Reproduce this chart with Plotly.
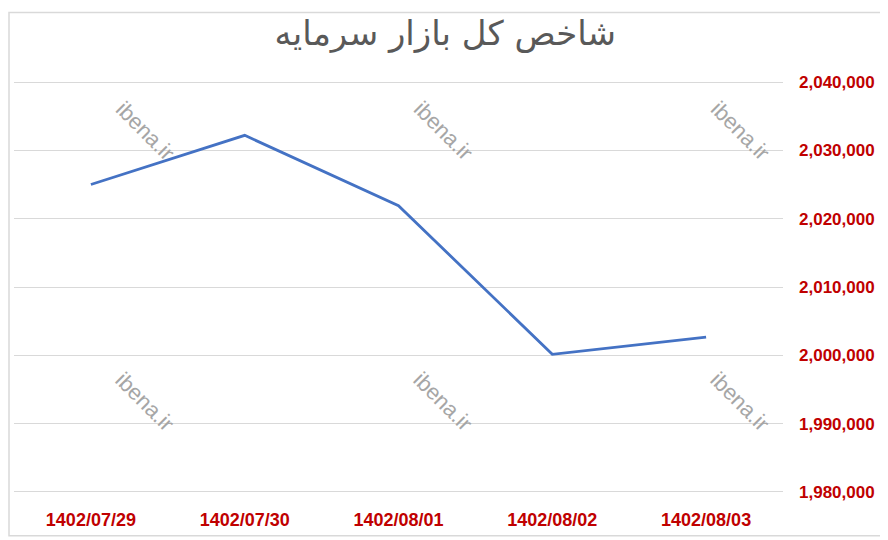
import plotly.graph_objects as go

dates = ["1402/07/29", "1402/07/30", "1402/08/01", "1402/08/02", "1402/08/03"]
index_values = [2025000, 2032200, 2021900, 2000150, 2002650]
y_ticks = [1980000, 1990000, 2000000, 2010000, 2020000, 2030000, 2040000]
y_tick_labels = [f"{v:,}" for v in y_ticks]
title_text = "شاخص کل بازار سرمایه"
watermark = "ibena.ir"

fig = go.Figure()
fig.add_trace(go.Scatter(
    x=dates, y=index_values, mode="lines",
    line=dict(color="#4472C4", width=2.8),
    hoverinfo="x+y",
))

# watermarks
wm_x = [0.170, 0.558, 0.944]
wm_y = [0.877, 0.224]
for xx in wm_x:
    for yy in wm_y:
        fig.add_annotation(
            x=xx, y=yy, xref="paper", yref="paper", text=watermark,
            showarrow=False, textangle=45, xanchor="center", yanchor="middle",
            font=dict(family="Liberation Sans, Arial", size=22, color="#a6a6a6"),
        )

fig.update_layout(
    width=880, height=532,
    margin=dict(l=6, r=105, t=72, b=46),
    paper_bgcolor="white", plot_bgcolor="white",
    showlegend=False,
    title=dict(
        text=title_text, x=0.497, xanchor="center", y=0.952, yanchor="middle",
        font=dict(family="DejaVu Sans", size=34, color="#595959"),
    ),
    xaxis=dict(
        type="category", showgrid=False, showline=False, ticks="",
        tickfont=dict(family="Liberation Sans, Arial", size=18, color="#C00000", weight="bold"),
        ticklabelstandoff=13,
        range=[-0.5, 4.5],
    ),
    yaxis=dict(
        side="right", range=[1979700, 2040300],
        tickvals=y_ticks, ticktext=y_tick_labels,
        showgrid=True, gridcolor="#d9d9d9", gridwidth=1,
        zeroline=False, showline=False, ticks="",
        tickfont=dict(family="Liberation Sans, Arial", size=17, color="#C00000", weight="bold"),
        ticklabelstandoff=15,
    ),
    shapes=[dict(type="rect", xref="paper", yref="paper", x0=-0.0065, x1=1.1365, y0=-0.101, y1=1.163,
                 line=dict(color="#d9d9d9", width=1.5), layer="below")],
)

fig.write_html("out.html")
